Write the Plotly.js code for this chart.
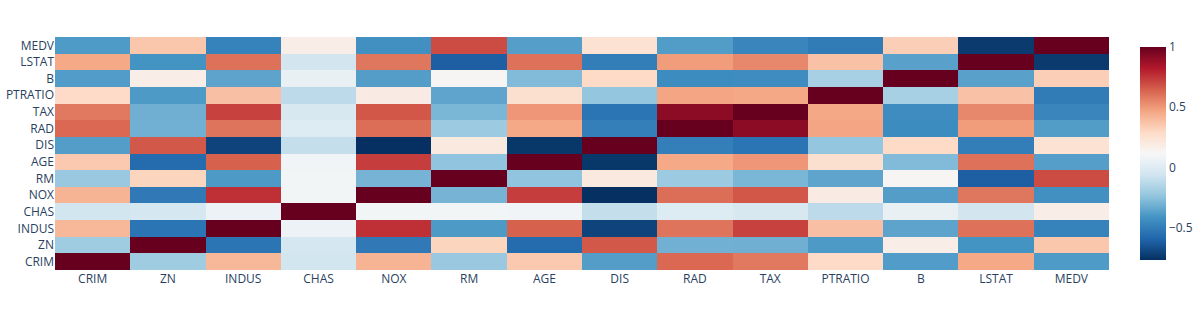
<!DOCTYPE html>
<html>
<head>
<meta charset="utf-8">
<script src="https://cdn.plot.ly/plotly-3.0.1.min.js"></script>
<style>html,body{margin:0;padding:0;background:#fff;}#chart{width:1200px;height:328px;}</style>
</head>
<body>
<div id="chart"></div>
<script>
const labels = ["CRIM","ZN","INDUS","CHAS","NOX","RM","AGE","DIS","RAD","TAX","PTRATIO","B","LSTAT","MEDV"];

const CRIM    = [1, -0.2005, 0.4066, -0.0559, 0.4210, -0.2192, 0.3527, -0.3797, 0.6255, 0.5828, 0.2899, -0.3851, 0.4556, -0.3883];
const ZN      = [-0.2005, 1, -0.5338, -0.0427, -0.5166, 0.3120, -0.5695, 0.6644, -0.3119, -0.3146, -0.3917, 0.1755, -0.4130, 0.3604];
const INDUS   = [0.4066, -0.5338, 1, 0.0629, 0.7637, -0.3917, 0.6448, -0.7080, 0.5951, 0.7208, 0.3832, -0.3570, 0.6038, -0.4837];
const CHAS    = [-0.0559, -0.0427, 0.0629, 1, 0.0912, 0.0913, 0.0865, -0.0992, -0.0074, -0.0356, -0.1215, 0.0488, -0.0539, 0.1753];
const NOX     = [0.4210, -0.5166, 0.7637, 0.0912, 1, -0.3022, 0.7315, -0.7692, 0.6114, 0.6680, 0.1889, -0.3801, 0.5909, -0.4273];
const RM      = [-0.2192, 0.3120, -0.3917, 0.0913, -0.3022, 1, -0.2403, 0.2052, -0.2098, -0.2920, -0.3555, 0.1281, -0.6138, 0.6954];
const AGE     = [0.3527, -0.5695, 0.6448, 0.0865, 0.7315, -0.2403, 1, -0.7479, 0.4560, 0.5065, 0.2615, -0.2735, 0.6023, -0.3770];
const DIS     = [-0.3797, 0.6644, -0.7080, -0.0992, -0.7692, 0.2052, -0.7479, 1, -0.4946, -0.5344, -0.2325, 0.2915, -0.4970, 0.2499];
const RAD     = [0.6255, -0.3119, 0.5951, -0.0074, 0.6114, -0.2098, 0.4560, -0.4946, 1, 0.9102, 0.4647, -0.4444, 0.4887, -0.3816];
const TAX     = [0.5828, -0.3146, 0.7208, -0.0356, 0.6680, -0.2920, 0.5065, -0.5344, 0.9102, 1, 0.4609, -0.4418, 0.5440, -0.4685];
const PTRATIO = [0.2899, -0.3917, 0.3832, -0.1215, 0.1889, -0.3555, 0.2615, -0.2325, 0.4647, 0.4609, 1, -0.1774, 0.3740, -0.5078];
const B       = [-0.3851, 0.1755, -0.3570, 0.0488, -0.3801, 0.1281, -0.2735, 0.2915, -0.4444, -0.4418, -0.1774, 1, -0.3661, 0.3335];
const LSTAT   = [0.4556, -0.4130, 0.6038, -0.0539, 0.5909, -0.6138, 0.6023, -0.4970, 0.4887, 0.5440, 0.3740, -0.3661, 1, -0.7377];
const MEDV    = [-0.3883, 0.3604, -0.4837, 0.1753, -0.4273, 0.6954, -0.3770, 0.2499, -0.3816, -0.4685, -0.5078, 0.3335, -0.7377, 1];

const z = [CRIM, ZN, INDUS, CHAS, NOX, RM, AGE, DIS, RAD, TAX, PTRATIO, B, LSTAT, MEDV];

const colors = ["rgb(5,48,97)","rgb(33,102,172)","rgb(67,147,195)","rgb(146,197,222)","rgb(209,229,240)","rgb(247,247,247)","rgb(253,219,199)","rgb(244,165,130)","rgb(214,96,77)","rgb(178,24,43)","rgb(103,0,31)"];
const colorscale = colors.map((c, i) => [i / (colors.length - 1), c]);

const data = [{
  type: 'heatmap',
  x: labels,
  y: labels,
  z: z,
  colorscale: colorscale,
  colorbar: {outlinewidth: 0, ticks: '', thickness: 26, len: 1, x: 1.02, xanchor: 'left', tickfont: {color: '#2a3f5f', size: 12}}
}];

const layout = {
  width: 1200,
  height: 328,
  margin: {l: 55, r: 91, t: 37, b: 58, autoexpand: false},
  paper_bgcolor: '#fff',
  plot_bgcolor: '#E5ECF6',
  font: {family: '"Open Sans", verdana, arial, sans-serif', size: 12, color: '#2a3f5f'},
  xaxis: {showgrid: false, zeroline: false, ticks: '', automargin: false},
  yaxis: {showgrid: false, zeroline: false, ticks: '', automargin: false}
};

Plotly.newPlot('chart', data, layout, {displayModeBar: false});
</script>
</body>
</html>
